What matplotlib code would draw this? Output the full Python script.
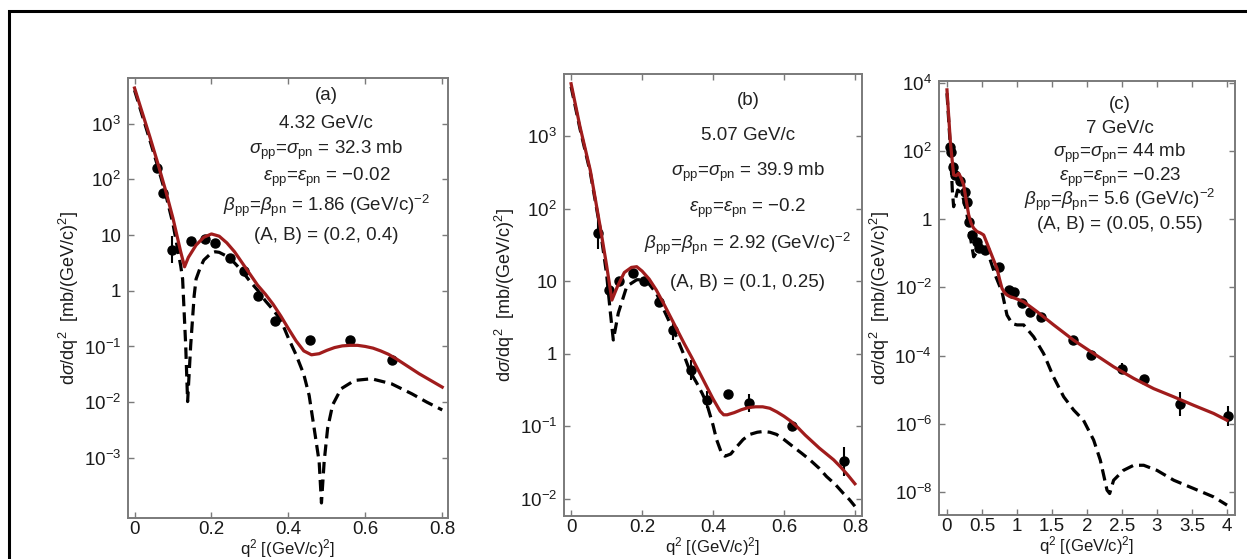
import numpy as np
import matplotlib
matplotlib.use('Agg')
import matplotlib.pyplot as plt
from matplotlib.patches import Rectangle

plt.rcParams['font.family'] = ['Liberation Sans', 'DejaVu Sans']
plt.rcParams['mathtext.fontset'] = 'custom'
plt.rcParams['mathtext.rm'] = 'Liberation Sans'
plt.rcParams['mathtext.it'] = 'Liberation Sans:italic'
plt.rcParams['mathtext.sf'] = 'Liberation Sans'
plt.rcParams['mathtext.bf'] = 'Liberation Sans:bold'

# --- data (all cross sections stored as log10 of mb/(GeV/c)^2) ---
# panel (a) 4.32 GeV/c
qa_full = [0, .02, .04, .06, .08, .10, .12, .13, .14, .16, .18, .20, .22, .24, .26, .28, .30, .32, .34,
           .36, .38, .40, .42, .44, .46, .48, .50, .52, .54, .56, .58, .60, .62, .64, .66, .68, .70, .72,
           .74, .76, .78, .80]
full_a_log = [3.64, 3.20, 2.76, 2.30, 1.82, 1.30, 0.70, 0.43, 0.60, 0.82, 0.96, 1.02, 0.98, 0.86, 0.70,
              0.50, 0.30, 0.10, -0.06, -0.24, -0.45, -0.68, -0.90, -1.08, -1.15, -1.13, -1.07, -1.02,
              -0.99, -0.98, -0.98, -1.00, -1.03, -1.08, -1.14, -1.22, -1.31, -1.40, -1.49, -1.57, -1.65,
              -1.73]
qa_dash = [0, .02, .04, .06, .08, .10, .12, .125, .133, .138, .146, .155, .16, .17, .18, .20, .21, .22,
           .24, .26, .28, .30, .32, .34, .36, .38, .40, .42, .44, .454, .467, .48, .486, .493, .502, .515,
           .537, .572, .616, .668, .721, .76, .80]
dash_a_log = [3.60, 3.15, 2.70, 2.24, 1.76, 1.20, 0.45, 0.21, -0.98, -1.99, -0.98, -0.09, 0.21, 0.40,
              0.55, 0.68, 0.70, 0.69, 0.62, 0.50, 0.35, 0.17, 0.01, -0.18, -0.34, -0.52, -0.85, -1.15,
              -1.50, -1.88, -2.47, -3.07, -3.81, -3.07, -2.47, -2.05, -1.76, -1.61, -1.58, -1.67, -1.85,
              -2.00, -2.14]
qa_pts = [0.0595, 0.0727, 0.097, 0.148, 0.183, 0.21, 0.247, 0.284, 0.322, 0.364, 0.456, 0.56, 0.67]
pts_a_log = [2.21, 1.75, 0.74, 0.89, 0.93, 0.86, 0.59, 0.36, -0.09, -0.55, -0.89, -0.89, -1.25]
err_a = [0.05, 0.08, 0.25, 0.05, 0.05, 0.05, 0.05, 0.06, 0.06, 0.06, 0.06, 0.05, 0.08]

# panel (b) 5.07 GeV/c
qb_full = [0, .025, .054, .082, .10, .115, .13, .15, .17, .185, .20, .22, .24, .26, .28, .30, .32, .34,
           .36, .38, .40, .42, .43, .44, .46, .48, .50, .52, .54, .56, .58, .60, .62, .64, .66, .68, .70,
           .72, .74, .76, .78, .80]
full_b_log = [3.72, 3.13, 2.53, 1.75, 1.22, 0.74, 0.92, 1.12, 1.19, 1.20, 1.14, 1.03, 0.88, 0.70, 0.51,
              0.32, 0.13, -0.05, -0.24, -0.43, -0.62, -0.79, -0.84, -0.84, -0.81, -0.77, -0.74, -0.73,
              -0.73, -0.75, -0.80, -0.86, -0.93, -1.02, -1.12, -1.21, -1.30, -1.38, -1.46, -1.56, -1.67,
              -1.79]
qb_dash = [0, .025, .054, .082, .10, .11, .119, .133, .157, .185, .204, .22, .241, .26, .279, .30, .316,
           .335, .354, .37, .382, .40, .41, .425, .434, .45, .467, .485, .504, .525, .542, .56, .579, .60,
           .626, .65, .673, .70, .72, .745, .767, .785, .80]
dash_b_log = [3.68, 3.10, 2.50, 1.72, 1.10, 0.60, 0.19, 0.56, 0.93, 1.02, 1.02, 0.96, 0.83, 0.62, 0.42,
              0.20, 0.01, -0.24, -0.40, -0.55, -0.68, -0.98, -1.18, -1.38, -1.41, -1.38, -1.28, -1.18,
              -1.11, -1.08, -1.07, -1.08, -1.11, -1.18, -1.28, -1.37, -1.46, -1.58, -1.69, -1.80, -1.92,
              -2.01, -2.10]
qb_pts = [.077, .108, .135, .174, .206, .248, .288, .338, .384, .441, .502, .624, .769]
pts_b_log = [1.66, 0.88, 1.00, 1.11, 1.00, 0.72, 0.33, -0.22, -0.63, -0.56, -0.68, -1.00, -1.48]
err_b = [0.22, 0.08, 0.05, 0.05, 0.06, 0.08, 0.14, 0.14, 0.12, 0.05, 0.12, 0.06, 0.20]

# panel (c) 7 GeV/c
qc_full = [0, .048, .095, .13, .167, .20, .238, .275, .31, .345, .381, .429, .476, .524, .571, .619, .667,
           .714, .75, .786, .821, .857, .90, .976, 1.095, 1.286, 1.524, 1.81, 2.095, 2.381, 2.667, 2.952,
           3.238, 3.524, 3.81, 4.0]
full_c_log = [3.80, 2.28, 1.30, 1.28, 1.35, 1.22, 1.01, 0.55, 0.13, -0.12, -0.26, -0.36, -0.40, -0.46,
              -0.70, -0.95, -1.20, -1.44, -1.75, -2.03, -2.15, -2.22, -2.27, -2.32, -2.42, -2.71, -3.10,
              -3.55, -3.94, -4.33, -4.67, -4.97, -5.21, -5.46, -5.70, -5.90]
qc_dash = [0, .048, .076, .095, .152, .214, .276, .333, .381, .429, .50, .571, .69, .786, .857, .93, 1.0,
           1.095, 1.238, 1.38, 1.52, 1.667, 1.81, 1.95, 2.095, 2.19, 2.286, 2.324, 2.38, 2.52, 2.667,
           2.81, 3.0, 3.24, 3.52, 3.81, 4.0]
dash_c_log = [3.70, 2.13, 0.86, 0.37, 0.86, 0.76, 0.27, -0.51, -1.10, -0.95, -0.85, -0.90, -1.64, -2.13,
              -2.81, -3.06, -3.10, -3.10, -3.45, -3.94, -4.62, -5.21, -5.60, -5.90, -6.48, -7.07, -7.95,
              -8.05, -7.66, -7.37, -7.22, -7.22, -7.37, -7.66, -7.90, -8.15, -8.39]
qc_pts = [.048, .062, .081, .119, .19, .262, .286, .31, .357, .429, .452, .548, .738, .881, .929, .952,
          1.071, 1.19, 1.348, 1.80, 2.062, 2.50, 2.81, 3.333, 4.01]
pts_c_log = [2.13, 1.99, 1.55, 1.30, 1.11, .81, .52, -.07, -.46, -.66, -.85, -.90, -1.39, -2.08, -2.17,
             -2.12, -2.47, -2.72, -2.87, -3.55, -3.99, -4.38, -4.69, -5.41, -5.78]
err_c = [0.1, 0.1, 0.1, 0.1, 0.1, 0.1, 0.1, 0.1, 0.1, 0.1, 0.1, 0.1, 0.1, 0.1, 0.1, 0.1, 0.1, 0.1, 0.1,
         0.1, 0.1, 0.15, 0.1, 0.35, 0.3]

# annotation text for each panel
text_a = ['(a)', '4.32 GeV/c', r'$\sigma_{\rm pp}$=$\sigma_{\rm pn}$ = 32.3 mb',
          r'$\varepsilon_{\rm pp}$=$\varepsilon_{\rm pn}$ = −0.02',
          r'$\beta_{\rm pp}$=$\beta_{\rm pn}$ = 1.86 (GeV/c)$^{-2}$', '(A, B) = (0.2, 0.4)']
text_b = ['(b)', '5.07 GeV/c', r'$\sigma_{\rm pp}$=$\sigma_{\rm pn}$ = 39.9 mb',
          r'$\varepsilon_{\rm pp}$=$\varepsilon_{\rm pn}$ = −0.2',
          r'$\beta_{\rm pp}$=$\beta_{\rm pn}$ = 2.92 (GeV/c)$^{-2}$', '(A, B) = (0.1, 0.25)']
text_c = ['(c)', '7 GeV/c', r'$\sigma_{\rm pp}$=$\sigma_{\rm pn}$= 44 mb',
          r'$\varepsilon_{\rm pp}$=$\varepsilon_{\rm pn}$= −0.23',
          r'$\beta_{\rm pp}$=$\beta_{\rm pn}$= 5.6 (GeV/c)$^{-2}$', '(A, B) = (0.05, 0.55)']

yticks_a = [-3, -2, -1, 0, 1, 2, 3]
yticks_b = [-2, -1, 0, 1, 2, 3]
yticks_c = [-8, -6, -4, -2, 0, 2, 4]
xticks_ab = [0, 0.2, 0.4, 0.6, 0.8]
xticks_c = [0, 0.5, 1, 1.5, 2, 2.5, 3, 3.5, 4]
xticklabels_c = ['0', '0.5', '1', '1.5', '2', '2.5', '3', '3.5', '4']

RED = '#a01c1c'
GRAY = '#7a7a7a'
W, H = 1247, 559


def log_label(e):
    if e == 0:
        return '1'
    if e == 1:
        return '10'
    return r'$10^{%d}$' % e


def draw_panel(ax, q_full, full_log, q_dash, dash_log, q_pts, pts_log, err, yticks, xticks, xlabels,
               xlim, ylim_log, lines, text_x, text_y):
    pts = np.power(10.0, pts_log)
    err = np.array(err)
    lo = pts - pts * np.power(10.0, -err)
    hi = pts * np.power(10.0, err) - pts
    ax.errorbar(q_pts, pts, yerr=[lo, hi], fmt='o', color='black', ms=6.5, elinewidth=1.5, capsize=0, zorder=2)
    ax.plot(q_dash, np.power(10.0, dash_log), color='black', lw=2.3, dashes=(3.6, 1.9), zorder=3)
    ax.plot(q_full, np.power(10.0, full_log), color=RED, lw=2.3, zorder=4)

    ax.set_yscale('log')
    ax.set_xlim(xlim)
    ax.set_ylim(10 ** ylim_log[0], 10 ** ylim_log[1])
    ax.set_yticks([10.0 ** e for e in yticks])
    ax.set_yticklabels([log_label(e) for e in yticks])
    ax.yaxis.set_minor_locator(matplotlib.ticker.NullLocator())
    ax.set_xticks(xticks)
    ax.set_xticklabels(xlabels)

    for s in ax.spines.values():
        s.set_color(GRAY)
        s.set_linewidth(1.4)
    ax.tick_params(direction='in', top=True, right=True, length=4, width=1, color=GRAY,
                   labelsize=13.5, labelcolor='#1a1a1a', pad=5)
    ax.tick_params(axis='x', pad=2.5)

    ax.set_xlabel(r'q$^2$ [(GeV/c)$^2$]', fontsize=12, labelpad=-1, color='#1a1a1a')
    ax.set_ylabel(r'd$\sigma$/dq$^2$  [mb/(GeV/c)$^2$]', fontsize=13, labelpad=2, color='#1a1a1a')

    for line, y in zip(lines, text_y):
        ax.text(text_x, y, line, transform=ax.transAxes, ha='center', va='center',
                fontsize=13.5, color='#222222')


fig = plt.figure(figsize=(W / 100, H / 100), dpi=100)

# axes boxes in pixels: left, top, right, bottom
boxes = [(128, 78, 448, 518), (564, 74, 862, 516), (939, 81, 1235, 515)]
axes = []
for l, t, r, b in boxes:
    axes.append(fig.add_axes([l / W, 1 - b / H, (r - l) / W, (b - t) / H]))

draw_panel(axes[0], qa_full, full_a_log, qa_dash, dash_a_log, qa_pts, pts_a_log, err_a,
           yticks_a, xticks_ab, ['0', '0.2', '0.4', '0.6', '0.8'],
           (-0.017, 0.815), (-4.08, 3.82), text_a, 0.62,
           [0.960, 0.897, 0.836, 0.773, 0.710, 0.643])
draw_panel(axes[1], qb_full, full_b_log, qb_dash, dash_b_log, qb_pts, pts_b_log, err_b,
           yticks_b, xticks_ab, ['0', '0.2', '0.4', '0.6', '0.8'],
           (-0.02, 0.82), (-2.234, 3.854), text_b, 0.617,
           [0.941, 0.860, 0.778, 0.697, 0.615, 0.529])
draw_panel(axes[2], qc_full, full_c_log, qc_dash, dash_c_log, qc_pts, pts_c_log, err_c,
           yticks_c, xticks_c, xticklabels_c,
           (-0.114, 4.114), (-8.68, 4.06), text_c, 0.611,
           [0.945, 0.890, 0.833, 0.779, 0.727, 0.670])

# outer frame of the original figure (open on the right and bottom)
frame = Rectangle((9 / W, -0.1), 1.2, 1.1 - 11 / H, transform=fig.transFigure, fill=False,
                  edgecolor='black', lw=2.2, clip_on=False)
fig.add_artist(frame)

fig.savefig('out.png', dpi=100)
